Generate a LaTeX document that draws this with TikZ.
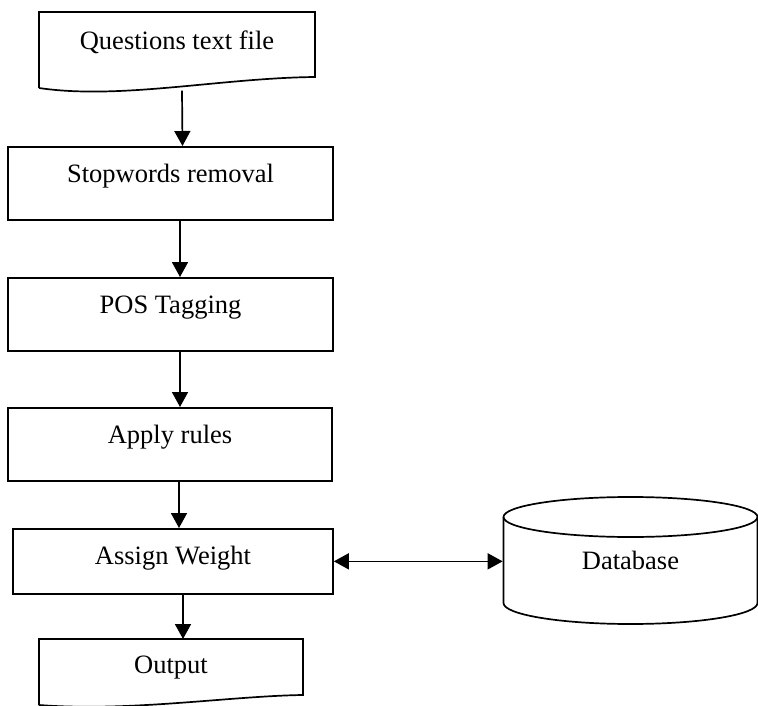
\documentclass[tikz,border=0pt]{standalone}
\usepackage{fontspec}
\setmainfont{Liberation Serif}
\usetikzlibrary{arrows.meta}

\begin{document}
\begin{tikzpicture}[x=1pt,y=-1pt,line width=1.7pt,>={Triangle[length=15pt,width=16pt]},
  font=\fontsize{26.5}{30}\selectfont,
  stage/.style={draw,rectangle,inner sep=0pt,anchor=north,text height=36pt,text depth=37pt},
  paper/.style={rectangle,inner sep=0pt,anchor=north}]
  \useasboundingbox (0,0) rectangle (758,706);
  % input document with its wavy bottom
  \node[paper,minimum width=276pt,text height=37pt,text depth=40pt] (qfile) at (177,12) {Questions text file};
  \draw (39,88) -- (39,12) -- (315,12) -- (315,77) .. controls (220,78) and (120,100) .. (39,88);
  % the processing steps
  \node[stage,minimum width=325pt] (stop) at (170.5,146) {Stopwords removal};
  \node[stage,minimum width=325pt] (pos) at (170.5,277) {POS Tagging};
  \node[stage,minimum width=324pt] (rules) at (170,407) {Apply rules};
  \node[stage,minimum width=320pt,text depth=29pt] (weight) at (173,528) {Assign Weight};
  % output document
  \node[paper,minimum width=264pt,text height=34pt,text depth=28pt] (out) at (171,639) {Output};
  \draw (39,705) -- (39,639) -- (303,639) -- (303,695) .. controls (230,696) and (130,712) .. (39,705);
  % database drum
  \node[inner sep=0pt,minimum width=254pt,minimum height=86pt] (db) at (630.5,560) {Database};
  \draw (630.5,517) ellipse [x radius=127pt,y radius=20pt];
  \draw (503.5,517) -- (503.5,603) arc[start angle=180,end angle=360,x radius=127pt,y radius=21pt] -- (757.5,517);
  % flow arrows, a bit right of centre
  \draw[->] ([xshift=5pt]qfile.south) -- ([xshift=12pt]stop.north);
  \draw[->] ([xshift=9.5pt]stop.south) -- ([xshift=9.5pt]pos.north);
  \draw[->] ([xshift=9.5pt]pos.south) -- ([xshift=10pt]rules.north);
  \draw[->] ([xshift=9pt]rules.south) -- ([xshift=6pt]weight.north);
  \draw[->] ([xshift=10pt]weight.south) -- ([xshift=12pt]out.north);
  \draw[<->] (weight.east) -- (weight.east -| db.west);
\end{tikzpicture}
\end{document}
